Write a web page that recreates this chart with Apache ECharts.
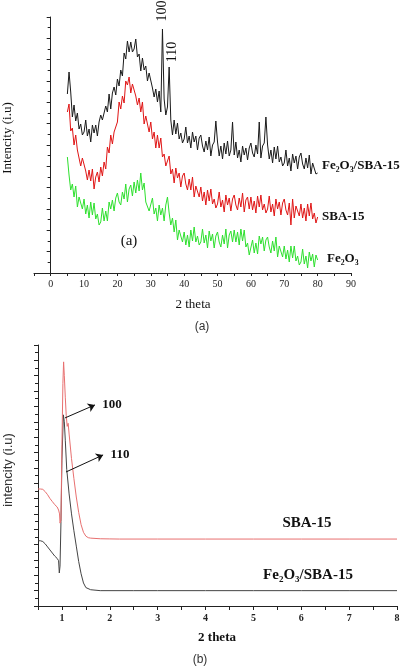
<!DOCTYPE html>
<html><head><meta charset="utf-8">
<script src="https://cdn.jsdelivr.net/npm/echarts@6/dist/echarts.min.js"></script>
<style>html,body{margin:0;padding:0;background:#fff}#c{width:408px;height:672px}</style>
</head><body><div id="c"></div>
<script>
// Panel (a): wide-angle XRD, 2theta from 5 to 80 in steps of 0.5
const xaStart = 5, xaStep = 0.5;
const aFe2O3SBA15 = [179,201,181,156,168,152,160,144,149,138,
141,153,137,144,131,148,140,148,137,151,
158,153,153,167,161,179,164,180,186,178,
194,187,203,197,220,214,232,221,231,221,
224,234,216,219,202,215,203,207,192,200,
200,185,176,184,171,182,161,244,174,158,
166,206,153,138,153,139,150,134,140,130,
134,146,130,137,125,141,131,137,123,135,
138,127,121,132,123,136,117,128,131,152,
131,117,127,114,130,119,132,117,123,151,
118,131,115,123,111,127,118,125,113,125,
130,120,116,128,119,151,115,127,130,156,
128,114,123,110,126,114,127,111,116,107,
110,123,107,115,102,119,110,117,104,116,
120,109,104,115,105,118,99,110,112,99,
100];
const aSBA15 = [161,169,142,145,128,138,123,125,107,115,
116,102,93,103,92,104,84,96,101,91,
106,97,111,104,126,120,138,129,141,139,
151,171,164,177,170,192,188,196,180,189,
190,177,168,175,161,171,149,157,156,141,
151,134,141,125,138,125,135,116,119,107,
108,117,99,104,90,105,95,100,86,97,
100,89,83,94,83,96,76,87,89,76,
86,72,81,68,83,72,84,69,74,65,
69,81,66,73,61,78,68,75,62,74,
78,68,63,75,66,80,61,73,76,64,
76,63,72,60,77,66,78,63,69,60,
64,77,61,69,57,74,64,71,58,70,
74,63,58,70,48,74,55,67,69,57,
69,55,65,52,69,57,70,54,60,50,
56];
const aFe2O3 = [116,98,83,89,76,87,66,76,78,64,
74,59,68,55,71,58,70,54,59,48,
51,65,52,62,52,71,64,73,62,75,
80,71,68,81,74,89,71,84,88,77,
91,80,93,82,100,83,90,71,73,62,
64,75,59,65,52,68,58,65,52,68,
76,60,48,55,41,53,33,43,44,31,
41,28,38,26,43,32,46,31,37,28,
31,44,30,38,25,42,32,39,25,37,
41,31,26,38,29,44,25,38,42,31,
43,31,41,28,44,32,43,26,30,18,
19,33,20,30,19,37,29,36,22,33,
36,26,20,32,22,36,16,27,29,16,
27,14,23,11,27,15,27,12,17,8,
11,24,9,17,5,21,12,19,6,18,
13];

// Panel (b): small-angle XRD
const bSBA15X = [0.5,0.55,0.6,0.65,0.7,0.75,0.8,0.85,0.9,0.93,0.95,0.96,0.98,1.0,1.02,1.035,1.05,1.07,1.09,1.11,1.13,1.15,1.2,1.25,1.3,1.35,1.4,1.45,1.5,1.55,1.6,1.8,2.0,2.2,3,4,5,6,7,8];
const bSBA15Y = [7.62,7.62,7.6,7.45,7.25,7.0,6.8,6.6,6.45,6.25,6.0,5.4,5.6,10.5,14.5,15.9,15.0,13.6,12.4,11.7,11.9,11.2,9.6,8.3,7.1,6.1,5.3,4.8,4.55,4.45,4.42,4.38,4.37,4.36,4.36,4.36,4.36,4.36,4.36,4.36];
const bFe2O3SBA15X = [0.5,0.55,0.6,0.65,0.7,0.75,0.8,0.85,0.9,0.93,0.945,0.96,0.98,1.0,1.03,1.05,1.07,1.1,1.15,1.2,1.25,1.3,1.35,1.4,1.45,1.5,1.6,1.8,2.5,3,4,5,6,7,8];
const bFe2O3SBA15Y = [4.25,4.25,4.2,4.05,3.85,3.65,3.45,3.25,3.1,2.95,2.15,2.6,5.5,9.5,12.45,12.0,10.8,8.9,7.3,6.0,4.9,3.9,2.9,2.1,1.5,1.2,1.06,1.0,1.0,1.0,1.0,1.0,1.0,1.0,1.0];

const xTicksA = [0,10,20,30,40,50,60,70,80,90];
const xTicksB = [1,2,3,4,5,6,7,8];

const toPairs = (xs, ys) => ys.map((v, i) => [xs[i], v]);
const gridX = arr => arr.map((v, i) => [xaStart + i * xaStep, v]);

const serif = 'Liberation Serif';
const sans = 'Liberation Sans';
const axisCol = '#222';

function txt(x, y, text, o) {
  o = o || {};
  return {
    type: 'text', x: x, y: y, rotation: o.rot || 0, silent: true,
    style: {
      text: text, x: 0, y: 0,
      fontSize: o.size || 12, fontFamily: o.family || serif, fontWeight: o.weight || 'normal',
      fill: o.color || '#111',
      align: o.align || 'center', textAlign: o.align || 'center',
      verticalAlign: 'middle', textVerticalAlign: 'middle'
    }
  };
}

const chart = echarts.init(document.getElementById('c'), null, {renderer: 'canvas'});
chart.setOption({
  backgroundColor: '#fff',
  animation: false,
  grid: [
    {left: 34, top: 17, width: 317, height: 256},
    {left: 38, top: 345, width: 359, height: 261}
  ],
  xAxis: [
    {type: 'value', gridIndex: 0, min: -5, max: 90, interval: 5,
     axisLine: {lineStyle: {color: axisCol, width: 1}},
     axisTick: {length: 3, lineStyle: {color: axisCol}},
     splitLine: {show: false},
     axisLabel: {margin: 6, fontFamily: serif, fontSize: 10, color: '#222',
       formatter: v => xTicksA.indexOf(v) >= 0 ? String(v) : ''}},
    {type: 'value', gridIndex: 1, min: 0.5, max: 8, interval: 0.5,
     axisLine: {lineStyle: {color: axisCol, width: 1}},
     axisTick: {length: 4, lineStyle: {color: axisCol}},
     splitLine: {show: false},
     axisLabel: {margin: 7, fontFamily: serif, fontWeight: 'bold', fontSize: 10, color: '#222',
       formatter: v => xTicksB.indexOf(v) >= 0 ? String(v) : ''}}
  ],
  yAxis: [
    {type: 'value', gridIndex: 0, min: 0, max: 256, interval: 256 / 12,
     axisLine: {show: true, lineStyle: {color: axisCol, width: 1}},
     axisTick: {show: true, length: 4, lineStyle: {color: axisCol}},
     minorTick: {show: true, splitNumber: 2, length: 3, lineStyle: {color: axisCol}},
     axisLabel: {show: false}, splitLine: {show: false}},
    {type: 'value', gridIndex: 1, min: 0, max: 17, interval: 1,
     axisLine: {show: true, lineStyle: {color: axisCol, width: 1}},
     axisTick: {show: true, length: 4, lineStyle: {color: axisCol}},
     minorTick: {show: true, splitNumber: 2, length: 3, lineStyle: {color: axisCol}},
     axisLabel: {show: false}, splitLine: {show: false}}
  ],
  series: [
    {type: 'line', xAxisIndex: 0, yAxisIndex: 0, data: gridX(aSBA15), showSymbol: false,
     lineStyle: {color: '#e01515', width: 1}, silent: true},
    {type: 'line', xAxisIndex: 0, yAxisIndex: 0, data: gridX(aFe2O3), showSymbol: false,
     lineStyle: {color: '#2ee02e', width: 1}, silent: true},
    {type: 'line', xAxisIndex: 0, yAxisIndex: 0, data: gridX(aFe2O3SBA15), showSymbol: false,
     lineStyle: {color: '#1a1a1a', width: 1}, silent: true},
    {type: 'line', xAxisIndex: 1, yAxisIndex: 1, data: toPairs(bFe2O3SBA15X, bFe2O3SBA15Y), showSymbol: false,
     lineStyle: {color: '#444', width: 1}, silent: true,
     markLine: {silent: true, symbol: ['none', 'arrow'], symbolSize: 7,
       label: {show: false},
       lineStyle: {color: '#111', width: 1, type: 'solid'},
       data: [
         [{coord: [1.064, 12.25]}, {coord: [1.69, 13.1]}],
         [{coord: [1.085, 8.73]}, {coord: [1.86, 9.84]}]
       ]}},
    {type: 'line', xAxisIndex: 1, yAxisIndex: 1, data: toPairs(bSBA15X, bSBA15Y), showSymbol: false,
     lineStyle: {color: '#e87070', width: 1}, silent: true}
  ],
  graphic: [
    txt(8, 138, 'Intencity (i.u)', {rot: Math.PI / 2, size: 13}),
    txt(193, 305, '2 theta', {size: 13}),
    txt(162, 11, '100', {rot: Math.PI / 2, size: 14}),
    txt(172, 52, '110', {rot: Math.PI / 2, size: 14}),
    txt(129, 241, '(a)', {size: 15}),
    txt(322, 166, 'Fe₂O₃/SBA-15', {size: 13, weight: 'bold', align: 'left'}),
    txt(322, 217, 'SBA-15', {size: 13, weight: 'bold', align: 'left'}),
    txt(327, 259, 'Fe₂O₃', {size: 13, weight: 'bold', align: 'left'}),
    txt(202, 327, '(a)', {size: 12, family: sans, color: '#333'}),
    txt(8, 470, 'intencity (i.u)', {rot: Math.PI / 2, size: 13, family: sans, color: '#333'}),
    txt(112, 405, '100', {size: 13, weight: 'bold'}),
    txt(120, 455, '110', {size: 13, weight: 'bold'}),
    txt(307, 523, 'SBA-15', {size: 15, weight: 'bold'}),
    txt(308, 575, 'Fe₂O₃/SBA-15', {size: 15, weight: 'bold'}),
    txt(217, 638, '2 theta', {size: 13, weight: 'bold'}),
    txt(200, 660, '(b)', {size: 12, family: sans, color: '#333'})
  ]
});
</script></body></html>
